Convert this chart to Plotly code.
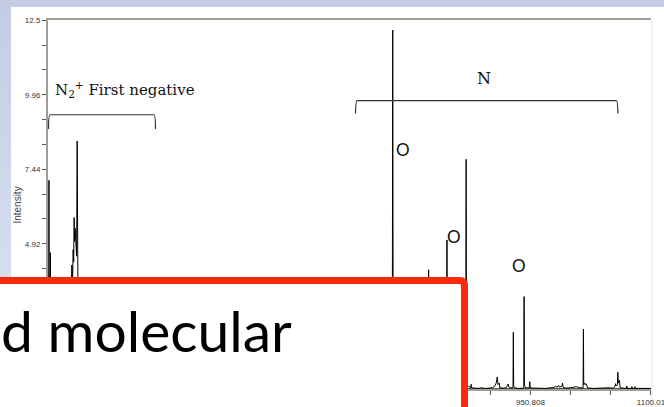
import plotly.graph_objects as go

# ---- emission spectrum (wavelength in nm, intensity in arb. units) ----
wavelength_nm = [
    354.0, 354.9, 355.2, 355.5, 356.6, 356.9, 357.2, 360.0, 364.0, 366.5, 367.0,
    370.5, 371.0, 371.5, 374.6, 375.2, 375.7, 378.0, 379.5, 380.0, 380.6,
    382.0, 383.5, 384.4, 385.1, 385.8, 386.3, 386.9, 387.6, 388.2, 388.8, 389.4,
    390.1, 390.6, 391.5, 395.0, 399.4, 399.8, 400.3, 405.5, 405.9, 406.4,
    420.0, 427.4, 427.8, 428.3, 450.0, 500.0, 550.0, 600.0, 655.8, 656.3, 656.8,
    700.0, 714.8, 715.3, 715.8, 742.0, 742.5, 743.5, 744.1, 744.6, 746.4, 746.9, 747.4,
    770.0, 779.9, 780.5, 781.1, 795.0, 799.0, 799.5, 800.0,
    818.0, 818.5, 819.0, 821.5, 822.0, 822.5, 824.4, 824.9, 825.4,
    840.0, 847.1, 847.6, 848.1, 856.0, 856.5, 857.0,
    868.0, 868.5, 869.0, 870.8, 871.3, 871.8,
    874.0, 877.0, 877.5, 878.0, 882.0, 886.0, 890.0, 895.0, 900.0, 904.0,
    906.5, 907.7, 908.5, 909.8, 910.8, 912.3, 913.0,
    918.0, 921.0, 922.3, 923.1, 924.0, 925.0,
    929.3, 929.7, 930.1, 931.5, 936.0, 942.6, 943.0, 943.4, 945.0,
    949.5, 950.0, 950.6, 955.0, 960.0, 965.0, 970.0, 975.0, 980.0, 982.0, 983.5,
    985.7, 987.0, 989.9, 990.6, 991.3, 995.0, 1000.0, 1005.0, 1008.0, 1011.0,
    1016.0, 1016.4, 1016.8, 1017.6, 1018.6, 1019.6, 1020.5, 1021.5,
    1028.0, 1035.0, 1042.0, 1048.0, 1053.0,
    1055.5, 1056.1, 1057.0, 1058.5, 1059.0, 1059.6, 1060.9, 1061.8,
    1066.0, 1069.6, 1070.2, 1070.8, 1075.8, 1076.4, 1077.0, 1079.6, 1080.2, 1080.8,
    1085.0, 1090.0, 1095.0, 1100.0,
]
intensity = [
    0.40, 0.45, 7.07, 1.20, 0.90, 4.62, 1.00, 0.50, 0.40, 0.90, 0.50,
    0.60, 1.60, 0.60, 0.80, 2.40, 0.90, 1.20, 1.80, 3.10, 1.50,
    2.30, 4.20, 3.60, 4.72, 4.30, 5.81, 5.00, 5.44, 4.80, 5.10, 4.50,
    8.40, 2.00, 0.80, 0.50, 0.60, 1.50, 0.50, 0.50, 1.10, 0.40,
    0.30, 0.30, 1.30, 0.30, 0.20, 0.15, 0.15, 0.10, 0.10, 0.90, 0.10,
    0.10, 0.10, 0.40, 0.10, 0.10, 0.60, 0.10, 0.90, 0.10, 0.10, 1.30, 0.10,
    0.10, 0.12, 12.16, 0.12, 0.10, 0.10, 0.50, 0.10,
    0.10, 0.70, 0.10, 0.10, 1.10, 0.10, 0.10, 4.04, 0.10,
    0.10, 0.10, 5.05, 0.10, 0.10, 0.60, 0.10,
    0.10, 0.90, 0.10, 0.10, 7.78, 0.10,
    0.10, 0.04, 0.16, 0.04, 0.03, 0.02, 0.04, 0.02, 0.03, 0.05,
    0.09, 0.14, 0.20, 0.41, 0.15, 0.20, 0.04,
    0.03, 0.05, 0.12, 0.17, 0.09, 0.04,
    0.04, 1.92, 0.10, 0.04, 0.02, 0.03, 3.13, 0.12, 0.04,
    0.04, 0.25, 0.04, 0.03, 0.02, 0.03, 0.02, 0.04, 0.05, 0.10, 0.05,
    0.12, 0.06, 0.10, 0.20, 0.05, 0.03, 0.04, 0.05, 0.08, 0.04,
    0.04, 2.03, 0.15, 0.20, 0.15, 0.18, 0.13, 0.04,
    0.02, 0.03, 0.02, 0.04, 0.03,
    0.08, 0.18, 0.10, 0.15, 0.57, 0.20, 0.30, 0.04,
    0.02, 0.02, 0.10, 0.02, 0.02, 0.08, 0.02, 0.02, 0.08, 0.02,
    0.02, 0.02, 0.02, 0.02,
]

# ---- axis ticks ----
x_tick_vals = [354.0, 403.734, 453.468, 503.202, 552.936, 602.67, 652.404, 702.138,
               751.872, 801.606, 851.34, 901.074, 950.808, 1000.542, 1050.276, 1100.01]
x_tick_text = ["354.000", "", "", "503.202", "", "", "652.404", "", "",
               "801.606", "", "", "950.808", "", "", "1100.01"]
y_tick_vals = [12.5, 11.653, 10.807, 9.96, 9.12, 8.28, 7.44, 6.60, 5.76, 4.92,
               4.08, 3.24, 2.40, 1.56, 0.72]
y_tick_text = ["12.5", "", "", "9.96", "", "", "7.44", "", "", "4.92",
               "", "", "", "", ""]

# ---- line identifications ----
o_label_text = ["O", "O", "O"]
o_label_wavelength = [792.6, 856.0, 936.8]
o_label_intensity = [8.12, 5.18, 4.19]

X_MIN, X_MAX = 354.0, 1100.02
Y_MIN, Y_MAX = 0.0, 12.5

W, H = 664, 407
ML, MR, MT, MB = 48, 13, 20, 18
PW, PH = W - ML - MR, H - MT - MB


def fx(px):
    """page pixel column -> paper x"""
    return (px - ML) / PW


def fy(py):
    """page pixel row -> paper y"""
    return (H - MB - py) / PH


SERIF = "DejaVu Serif, Liberation Serif, serif"
SANS = "Liberation Sans, Arial, sans-serif"
SLIDE = "Lato, Open Sans, sans-serif"

fig = go.Figure()
fig.add_trace(go.Scatter(
    x=wavelength_nm, y=intensity, mode="lines",
    line=dict(color="#000000", width=1), hoverinfo="skip", showlegend=False,
    cliponaxis=False,
))

shapes = []

# slide backdrop: soft blue band down the left edge
top_rgb = (198, 204, 228)
bot_rgb = (220, 231, 245)
n_bands = 40
for i in range(n_bands):
    t = i / (n_bands - 1)
    c = tuple(round(a + (b - a) * t) for a, b in zip(top_rgb, bot_rgb))
    y0 = 7 + (H - 7) * i / n_bands
    y1 = 7 + (H - 7) * (i + 1) / n_bands + 0.5
    shapes.append(dict(type="rect", xref="paper", yref="paper", layer="below",
                       x0=fx(0), x1=fx(11), y0=fy(y1), y1=fy(y0),
                       fillcolor="rgb(%d,%d,%d)" % c, line=dict(width=0)))
# white picture area
shapes.append(dict(type="rect", xref="paper", yref="paper", layer="below",
                   x0=fx(11), x1=fx(W + 2), y0=fy(H + 2), y1=fy(7),
                   fillcolor="#ffffff", line=dict(width=0)))
shapes.append(dict(type="line", xref="paper", yref="paper", layer="below",
                   x0=fx(652), x1=fx(652), y0=fy(H), y1=fy(20),
                   line=dict(color="#f2f2f2", width=2)))
# dark base line under the spectrum
shapes.append(dict(type="line", xref="paper", yref="paper", layer="below",
                   x0=0, x1=1, y0=0, y1=0,
                   line=dict(color="#222222", width=1.5)))


def bracket(x0, x1, y_top, y_foot, r):
    return ("M %f,%f Q %f,%f %f,%f L %f,%f Q %f,%f %f,%f" %
            (x0, y_foot, x0, y_top, x0 + r, y_top,
             x1 - r, y_top, x1, y_top, x1, y_foot))


# group brackets (data coordinates)
shapes.append(dict(type="path", xref="x", yref="y", layer="above",
                   path=bracket(354.6, 487.0, 9.29, 8.81, 2.0),
                   line=dict(color="#333333", width=1.2)))
shapes.append(dict(type="path", xref="x", yref="y", layer="above",
                   path=bracket(734.5, 1059.0, 9.77, 9.33, 2.0),
                   line=dict(color="#333333", width=1.2)))

# overlaid text box with red frame
box_path = "M %f,%f L %f,%f Q %f,%f %f,%f L %f,%f L %f,%f Z" % (
    fx(-20), fy(280.5),
    fx(459.5), fy(280.5),
    fx(464.5), fy(280.5), fx(464.5), fy(285.5),
    fx(464.5), fy(440),
    fx(-20), fy(440),
)
shapes.append(dict(type="path", xref="paper", yref="paper", layer="above",
                   path=box_path, fillcolor="#ffffff",
                   line=dict(color="#fa2a0a", width=7)))

annotations = [
    dict(text="N<sub>2</sub><sup>+</sup> First negative", xref="x", yref="y",
         x=360.2, y=10.14, xanchor="left", yanchor="middle", showarrow=False,
         font=dict(family=SERIF, size=15, color="#111111")),
    dict(text="N", xref="x", yref="y", x=893.3, y=10.52, xanchor="center",
         yanchor="middle", showarrow=False,
         font=dict(family=SERIF, size=16, color="#111111")),
    dict(text="Intensity", xref="paper", yref="paper", x=fx(18), y=fy(205.6),
         xanchor="center", yanchor="middle", textangle=-90, showarrow=False,
         font=dict(family=SANS, size=10, color="#444444")),
    dict(text="d molecular", xref="paper", yref="paper", x=fx(-1), y=fy(330),
         xanchor="left", yanchor="middle", showarrow=False,
         font=dict(family=SLIDE, size=57, color="#000000")),
]
for txt, wx, iy in zip(o_label_text, o_label_wavelength, o_label_intensity):
    annotations.append(dict(text=txt, xref="x", yref="y", x=wx, y=iy,
                            xanchor="center", yanchor="middle", showarrow=False,
                            font=dict(family=SLIDE, size=17, color="#111111")))

fig.update_layout(
    width=W, height=H, autosize=False,
    margin=dict(l=ML, r=MR, t=MT, b=MB, pad=0, autoexpand=False),
    paper_bgcolor="rgb(198,204,228)", plot_bgcolor="#ffffff",
    shapes=shapes, annotations=annotations, showlegend=False,
    xaxis=dict(range=[X_MIN, X_MAX], showline=True, mirror=True, automargin=False,
               linecolor="#a29d94", linewidth=2, showgrid=False, zeroline=False,
               ticks="outside", ticklen=4, tickwidth=1, tickcolor="#555555",
               tickvals=x_tick_vals, ticktext=x_tick_text,
               ticklabeloverflow="allow",
               tickfont=dict(family=SANS, size=8, color="#333333")),
    yaxis=dict(range=[Y_MIN, Y_MAX], showline=True, mirror=False, automargin=False,
               linecolor="#a29d94", linewidth=2, showgrid=False, zeroline=False,
               ticks="outside", ticklen=4, tickwidth=1, tickcolor="#555555",
               tickvals=y_tick_vals, ticktext=y_tick_text,
               tickfont=dict(family=SANS, size=8, color="#333333")),
)

fig.write_html("out.html", config={"displayModeBar": False})
